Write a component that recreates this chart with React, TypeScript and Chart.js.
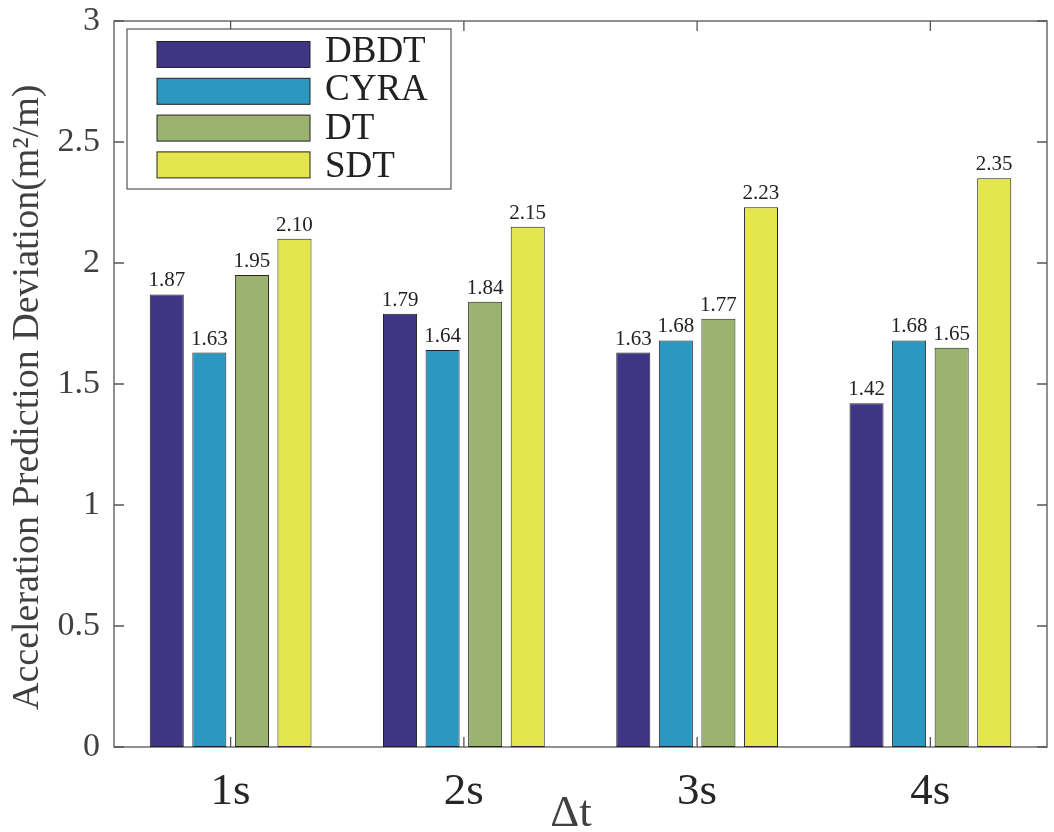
import React, { useEffect, useRef } from "react";
import { Chart, registerables } from "chart.js";

Chart.register(...registerables);

const categories = ["1s", "2s", "3s", "4s"];
const seriesNames = ["DBDT", "CYRA", "DT", "SDT"];
const dbdt = [1.87, 1.79, 1.63, 1.42];
const cyra = [1.63, 1.64, 1.68, 1.68];
const dt = [1.95, 1.84, 1.77, 1.65];
const sdt = [2.1, 2.15, 2.23, 2.35];
const seriesColors = ["#3E3584", "#2C97C0", "#9AB46F", "#E5E64D"];
const yTickLabels = ["0", "0.5", "1", "1.5", "2", "2.5", "3"];
const yTitle = "Acceleration Prediction Deviation(m\u00B2/m)";
const xTitle = "\u0394t";

const FONT = "'Liberation Serif', 'Times New Roman', serif";
const AXIS = "#555555";

const framePlugin = {
  id: "frame",
  beforeDatasetsDraw(chart: any) {
    const { ctx, chartArea: a, scales } = chart;
    ctx.save();
    ctx.strokeStyle = AXIS;
    ctx.lineWidth = 1.3;
    ctx.strokeRect(a.left, a.top, a.right - a.left, a.bottom - a.top);
    const ys = scales.y;
    yTickLabels.forEach((_, i) => {
      const y = ys.getPixelForValue(i * 0.5);
      ctx.beginPath();
      ctx.moveTo(a.left, y);
      ctx.lineTo(a.left + 10, y);
      ctx.moveTo(a.right, y);
      ctx.lineTo(a.right - 10, y);
      ctx.stroke();
    });
    const xs = scales.x;
    categories.forEach((_, i) => {
      const x = xs.getPixelForValue(i);
      ctx.beginPath();
      ctx.moveTo(x, a.top);
      ctx.lineTo(x, a.top + 10);
      ctx.moveTo(x, a.bottom);
      ctx.lineTo(x, a.bottom - 10);
      ctx.stroke();
    });
    ctx.restore();
  },
};

const overlayPlugin = {
  id: "overlay",
  afterDatasetsDraw(chart: any) {
    const { ctx } = chart;
    ctx.save();
    ctx.font = `21px ${FONT}`;
    ctx.fillStyle = "#222222";
    ctx.textAlign = "center";
    ctx.textBaseline = "alphabetic";
    chart.data.datasets.forEach((ds: any, di: number) => {
      const meta = chart.getDatasetMeta(di);
      meta.data.forEach((el: any, i: number) => {
        ctx.fillText(Number(ds.data[i]).toFixed(2), el.x, el.y - 8);
      });
    });
    ctx.restore();
  },
  afterDraw(chart: any) {
    const { ctx } = chart;
    ctx.save();
    // legend box
    const bx = 127, by = 29, bw = 324, bh = 160;
    ctx.fillStyle = "#ffffff";
    ctx.fillRect(bx, by, bw, bh);
    ctx.strokeStyle = AXIS;
    ctx.lineWidth = 1.2;
    ctx.strokeRect(bx, by, bw, bh);
    seriesNames.forEach((name, i) => {
      const sy = 41.5 + i * 36.8;
      ctx.fillStyle = seriesColors[i];
      ctx.fillRect(157, sy, 153, 26);
      ctx.strokeStyle = "#222222";
      ctx.lineWidth = 1;
      ctx.strokeRect(157, sy, 153, 26);
      ctx.fillStyle = "#222222";
      ctx.font = `37px ${FONT}`;
      ctx.textAlign = "left";
      ctx.textBaseline = "alphabetic";
      ctx.fillText(name, 325, 62 + i * 38.3);
    });
    // y title
    ctx.fillStyle = "#404040";
    ctx.font = `38px ${FONT}`;
    ctx.translate(38, 710);
    ctx.rotate(-Math.PI / 2);
    ctx.textAlign = "left";
    ctx.textBaseline = "alphabetic";
    ctx.fillText(yTitle, 0, 0);
    ctx.setTransform(1, 0, 0, 1, 0, 0);
    // x title
    ctx.font = `45px ${FONT}`;
    ctx.textAlign = "center";
    ctx.fillText(xTitle, 571, 826);
    ctx.restore();
  },
};

export default function App() {
  const ref = useRef<HTMLCanvasElement>(null);
  useEffect(() => {
    const values = [dbdt, cyra, dt, sdt];
    const chart = new Chart(ref.current as HTMLCanvasElement, {
      type: "bar",
      data: {
        labels: categories,
        datasets: seriesNames.map((n, i) => ({
          label: n,
          data: values[i],
          backgroundColor: seriesColors[i],
          borderColor: "#222222",
          borderWidth: 1,
          borderSkipped: false,
          categoryPercentage: 0.73,
          barPercentage: 0.8,
        })),
      },
      options: {
        responsive: false,
        animation: false,
        layout: { padding: { top: 21, right: 7, left: 0, bottom: 0 } },
        plugins: { legend: { display: false }, tooltip: { enabled: false } },
        scales: {
          x: {
            type: "category",
            offset: true,
            grid: { display: false },
            border: { display: false },
            ticks: { font: { family: FONT, size: 45 }, color: "#262626", padding: 10 },
            afterFit(s: any) {
              s.height = 85;
              s.paddingLeft = 0;
              s.paddingRight = 0;
            },
          },
          y: {
            min: 0,
            max: 3,
            grid: { display: false },
            border: { display: false },
            ticks: {
              stepSize: 0.5,
              font: { family: FONT, size: 34 },
              color: "#404040",
              padding: 6,
              callback: (_v: any, i: number) => yTickLabels[i],
            },
            afterFit(s: any) {
              s.width = 114;
              s.paddingTop = 0;
              s.paddingBottom = 0;
            },
          },
        },
      },
      plugins: [framePlugin, overlayPlugin],
    });
    return () => chart.destroy();
  }, []);
  return (
    <div style={{ position: "fixed", left: 0, top: 0, width: 1054, height: 832, background: "#fff" }}>
      <canvas ref={ref} width={1054} height={832} />
    </div>
  );
}
